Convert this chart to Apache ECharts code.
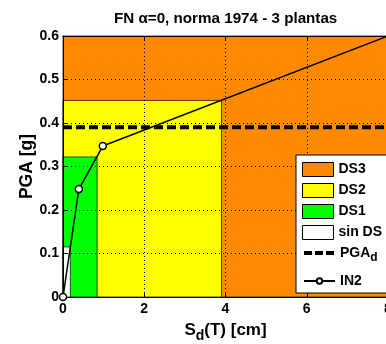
<!DOCTYPE html>
<html>
<head>
<meta charset="utf-8">
<script src="https://cdn.jsdelivr.net/npm/echarts@6/dist/echarts.min.js"></script>
<style>
  html, body { margin: 0; padding: 0; background: #fff; }
  #chart { width: 386px; height: 344px; }
</style>
</head>
<body>
<div id="chart"></div>
<script>
  // damage state zones (each from origin up to xMax / yMax)
  const zoneNames = ['DS3', 'DS2', 'DS1', 'sin DS']
  const zoneXMax = [8, 3.9, 0.84, 0.18]
  const zoneYMax = [0.6, 0.452, 0.322, 0.115]
  const zoneColors = ['#ff8a00', '#ffff00', '#00ff00', '#ffffff']

  // design PGA
  const pgaD = 0.39

  // IN2 curve
  const in2X = [0, 0.39, 0.98, 8]
  const in2Y = [0, 0.248, 0.347, 0.6]

  const xTicks = [0, 2, 4, 6, 8]
  const yTicks = [0, 0.1, 0.2, 0.3, 0.4, 0.5, 0.6]

  const font = 'Liberation Sans, Arial, sans-serif'
  const chart = echarts.init(document.getElementById('chart'))

  function renderZone (params, api) {
    const p0 = api.coord([api.value(0), api.value(1)])
    const p1 = api.coord([api.value(2), api.value(3)])
    return {
      type: 'rect',
      shape: {x: p0[0], y: p1[1], width: p1[0] - p0[0], height: p0[1] - p1[1]},
      style: {fill: api.visual('color'), stroke: 'rgba(0,0,0,0.7)', lineWidth: 1}
    }
  }

  const zoneSeries = zoneNames.map((name, i) => ({
    name: name,
    type: 'custom',
    z: 1,
    renderItem: renderZone,
    itemStyle: {color: zoneColors[i]},
    encode: {x: [0, 2], y: [1, 3]},
    data: [[0, 0, zoneXMax[i], zoneYMax[i]]],
    silent: true
  }))

  const axisCommon = {
    z: 2,
    axisLine: {show: true, lineStyle: {color: '#000', width: 1}},
    axisTick: {show: true, inside: true, length: 4, lineStyle: {color: '#000'}},
    splitLine: {show: true, lineStyle: {color: '#000', type: [1, 3], width: 1}}
  }

  const legendText = {
    rich: {
      a: {fontSize: 14, fontWeight: 'bold', fontFamily: font, color: '#000'},
      s: {fontSize: 12, fontWeight: 'bold', fontFamily: font, color: '#000', padding: [10, 0, 0, 0]}
    }
  }

  chart.setOption({
    animation: false,
    title: {
      text: 'FN α=0, norma 1974 - 3 plantas',
      left: 109,
      top: 6,
      textStyle: {fontSize: 15.2, fontWeight: 'bold', fontFamily: font, color: '#000'}
    },
    grid: {left: 63, top: 36, right: -2, bottom: 47, show: false, outerBoundsMode: 'none', containLabel: false},
    legend: [
      {
        // zone boxes; the border box also surrounds the line items below
        orient: 'vertical',
        left: 296,
        top: 155,
        z: 10,
        padding: [7, 6, 53, 6],
        backgroundColor: '#fff',
        borderColor: '#000',
        borderWidth: 1,
        borderRadius: 0,
        itemWidth: 31,
        itemHeight: 14,
        itemGap: 6,
        data: [
          {name: 'DS3', icon: 'rect', itemStyle: {borderColor: '#000', borderWidth: 1}},
          {name: 'DS2', icon: 'rect', itemStyle: {borderColor: '#000', borderWidth: 1}},
          {name: 'DS1', icon: 'rect', itemStyle: {borderColor: '#000', borderWidth: 1}},
          {name: 'sin DS', icon: 'rect', itemStyle: {borderColor: '#000', borderWidth: 1}}
        ],
        formatter: name => '{a|' + name + '}',
        textStyle: legendText
      },
      {
        orient: 'vertical',
        left: 296,
        top: 246,
        z: 11,
        padding: [0, 6, 0, 6],
        itemWidth: 31,
        itemHeight: 7,
        itemGap: 10,
        data: [
          {name: 'PGAd', itemStyle: {opacity: 0}, lineStyle: {width: 4, type: [8, 3]}},
          {name: 'IN2'}
        ],
        formatter: name => name === 'PGAd' ? '{a|PGA}{s|d}' : '{a|' + name + '}',
        textStyle: legendText
      }
    ],
    xAxis: [
      Object.assign({}, axisCommon, {
        type: 'value',
        min: xTicks[0],
        max: xTicks[xTicks.length - 1],
        interval: xTicks[1] - xTicks[0],
        name: '{a|S}{s|d}{a|(T) [cm]}',
        nameLocation: 'middle',
        nameGap: 20,
        nameMoveOverlap: false,
        nameTextStyle: {
          rich: {
            a: {fontSize: 17, fontWeight: 'bold', fontFamily: font, color: '#000'},
            s: {fontSize: 14, fontWeight: 'bold', fontFamily: font, color: '#000', padding: [12, 0, 0, 0]}
          }
        },
        axisLabel: {margin: 5, fontSize: 14, fontWeight: 'bold', fontFamily: font, color: '#000'}
      }),
      {
        type: 'value',
        position: 'top',
        z: 2,
        min: xTicks[0],
        max: xTicks[xTicks.length - 1],
        interval: xTicks[1] - xTicks[0],
        axisLine: {show: true, lineStyle: {color: '#000', width: 1}},
        axisTick: {show: true, inside: true, length: 4, lineStyle: {color: '#000'}},
        axisLabel: {show: false},
        splitLine: {show: false}
      }
    ],
    yAxis: Object.assign({}, axisCommon, {
      type: 'value',
      min: yTicks[0],
      max: yTicks[yTicks.length - 1],
      interval: 0.1,
      name: 'PGA [g]',
      nameLocation: 'middle',
      nameGap: 27,
      nameMoveOverlap: false,
      nameTextStyle: {fontSize: 17.5, fontWeight: 'bold', fontFamily: font, color: '#000'},
      axisLabel: {margin: 4, fontSize: 14, fontWeight: 'bold', fontFamily: font, color: '#000',
        formatter: v => v === 0 ? '0' : v.toFixed(1)}
    }),
    series: zoneSeries.concat([
      {
        name: 'PGAd',
        type: 'line',
        z: 3,
        symbol: 'none',
        lineStyle: {color: '#000', width: 4, type: [9, 4]},
        itemStyle: {color: '#000'},
        data: [[xTicks[0], pgaD], [xTicks[xTicks.length - 1], pgaD]],
        silent: true
      },
      {
        name: 'IN2',
        type: 'line',
        z: 4,
        symbol: 'circle',
        symbolSize: 7,
        showAllSymbol: true,
        lineStyle: {color: '#000', width: 1.5},
        itemStyle: {color: '#fff', borderColor: '#000', borderWidth: 1.5},
        data: in2X.map((x, i) => i === in2X.length - 1 ? {value: [x, in2Y[i]], symbol: 'none'} : [x, in2Y[i]]),
        silent: true
      }
    ])
  })
</script>
</body>
</html>
